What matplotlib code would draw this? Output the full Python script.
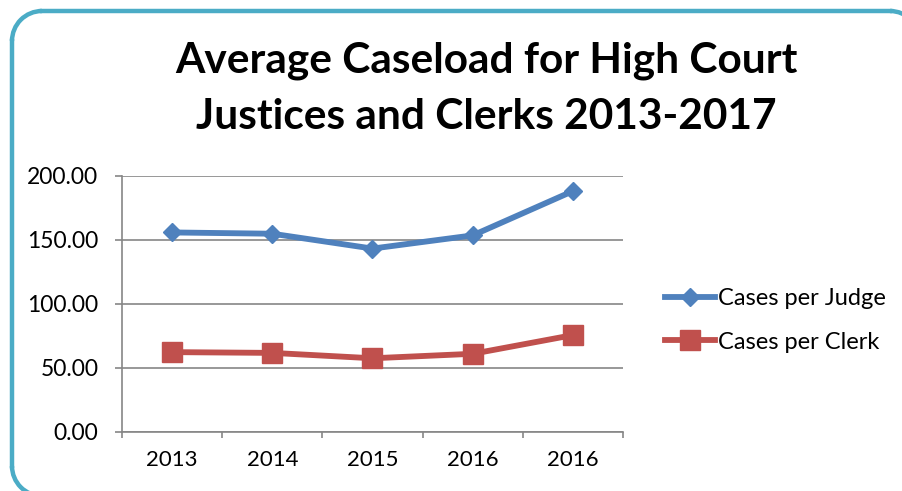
import matplotlib.pyplot as plt
from matplotlib.patches import Arc

plt.rcParams['font.family'] = ['Lato', 'DejaVu Sans']

# data
years = ['2013', '2014', '2015', '2016', '2016']
per_judge = [155.9, 154.9, 143.3, 153.6, 188.2]
per_clerk = [62.4, 61.8, 57.6, 61.1, 75.7]
y_ticks = [0, 50, 100, 150, 200]

W, H = 903, 491
fig = plt.figure(figsize=(W / 100, H / 100), dpi=100)

# teal rounded frame in pixel units (y up); right and bottom sides run off the canvas
bg = fig.add_axes([0, 0, 1, 1], zorder=-1)
bg.set_xlim(0, W)
bg.set_ylim(0, H)
bg.axis('off')
teal = '#4BACC6'
r = 30
left, top, right, bottom = 12, H - 11, 920, H - 496
bg.plot([left, left], [bottom + r, top - r], color=teal, lw=3.2)
bg.plot([left + r, right - r], [top, top], color=teal, lw=3.2)
for cx, cy, t1, t2 in [(left + r, top - r, 90, 180), (right - r, top - r, 0, 90),
                       (left + r, bottom + r, 180, 270),
                       (right - r, bottom + r, 270, 360)]:
    bg.add_patch(Arc((cx, cy), 2 * r, 2 * r, theta1=t1, theta2=t2,
                     color=teal, lw=3.2))

ax = fig.add_axes([122 / W, (H - 432) / H, 501 / W, 256 / H])

x = [i + 0.5 for i in range(len(years))]
ax.plot(x, per_judge, color='#4F81BD', lw=4.2, marker='D', ms=9.5,
        label='Cases per Judge')
ax.plot(x, per_clerk, color='#C0504D', lw=4.2, marker='s', ms=14,
        label='Cases per Clerk')

ax.set_xlim(0, len(years))
ax.set_ylim(0, 200)
ax.set_yticks(y_ticks)
ax.set_yticklabels([f'{v:.2f}' for v in y_ticks])
ax.set_xticks(range(len(years) + 1))
ax.set_xticklabels([])
ax.set_xticks(x, minor=True)
ax.set_xticklabels(years, minor=True)
ax.tick_params(axis='x', which='minor', length=0, pad=13, labelsize=16)
ax.tick_params(axis='x', which='major', length=4, width=1.2, color='#868686')
ax.tick_params(axis='y', length=5, width=1.2, color='#868686', pad=12,
               labelsize=16.5)
ax.grid(axis='y', color='#868686', lw=1.2)
ax.set_axisbelow(True)
for s in ['top', 'right']:
    ax.spines[s].set_visible(False)
for s in ['left', 'bottom']:
    ax.spines[s].set_color('#868686')
    ax.spines[s].set_linewidth(1.2)

ax.legend(loc='center left', bbox_to_anchor=(665 / W, (H - 320.5) / H),
          bbox_transform=fig.transFigure, frameon=False, fontsize=17,
          handlelength=2.1, handletextpad=0.15, labelspacing=0.95,
          borderpad=0, borderaxespad=0)

fig.text(486 / W, (H - 73) / H, 'Average Caseload for High Court',
         ha='center', va='baseline', fontsize=30.5, fontweight='bold')
fig.text(486 / W, (H - 129) / H, 'Justices and Clerks 2013-2017',
         ha='center', va='baseline', fontsize=30.5, fontweight='bold')

fig.savefig('out.png', dpi=100)
